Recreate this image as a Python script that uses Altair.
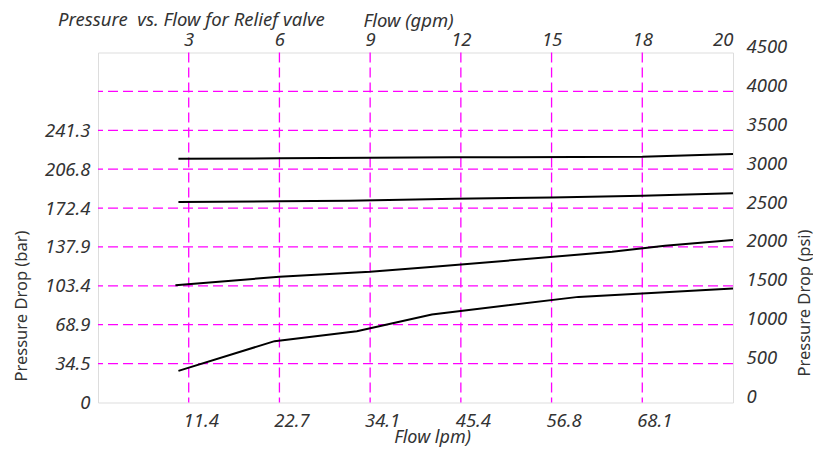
import altair as alt
import pandas as pd

# ---- axis ticks / labels ----
gpm_ticks = [3, 6, 9, 12, 15, 18, 21]
gpm_labels = ["3", "6", "9", "12", "15", "18", "20"]
grid_gpm = [3, 6, 9, 12, 15, 18]
lpm_labels = ["11.4", "22.7", "34.1", "45.4", "56.8", "68.1"]
psi_ticks = [0, 500, 1000, 1500, 2000, 2500, 3000, 3500, 4000, 4500]
grid_psi = [500, 1000, 1500, 2000, 2500, 3000, 3500, 4000]
bar_ticks = [0, 500, 1000, 1500, 2000, 2500, 3000, 3500]
bar_labels = ["0", "34.5", "68.9", "103.4", "137.9", "172.4", "206.8", "241.3"]

# ---- series (flow in gpm, pressure in psi) ----
s1_gpm = [2.66, 6.0, 9.0, 11.8, 18.0, 21.0]
s1_psi = [3134, 3139, 3147, 3152, 3160, 3194]
s2_gpm = [2.66, 6.0, 8.3, 11.8, 15.0, 18.0, 21.0]
s2_psi = [2577, 2588, 2594, 2619, 2637, 2658, 2689]
s3_gpm = [2.56, 6.0, 9.0, 11.0, 17.0, 18.75, 21.0]
s3_psi = [1509, 1616, 1680, 1741, 1937, 2015, 2088]
s4_gpm = [2.66, 5.84, 8.56, 11.04, 15.89, 21.0]
s4_psi = [407, 789, 917, 1132, 1358, 1467]

rows = []
for name, xs, ys in [("s1", s1_gpm, s1_psi), ("s2", s2_gpm, s2_psi),
                     ("s3", s3_gpm, s3_psi), ("s4", s4_gpm, s4_psi)]:
    for i, (a, b) in enumerate(zip(xs, ys)):
        rows.append({"series": name, "gpm": a, "psi": b, "order": i})
df = pd.DataFrame(rows)

FONT = "Noto Sans"
TXT = "#333333"
MAG = "#FF00FF"

xscale = alt.Scale(domain=[0, 21], nice=False, zero=True)
yscale = alt.Scale(domain=[0, 4500], nice=False, zero=True)


def arr_expr(labels, idx):
    return "[" + ",".join("'%s'" % l for l in labels) + "][" + idx + "]"


common_axis = dict(domain=False, ticks=False, grid=False, labelFont=FONT,
                   labelFontSize=18.5, labelFontStyle="italic", labelColor=TXT,
                   titleFont=FONT, titleColor=TXT, titleFontWeight="normal")

vgrid = alt.Chart(pd.DataFrame({"g": grid_gpm})).mark_rule(
    color=MAG, strokeWidth=1.3, strokeDash=[10, 5]
).encode(x=alt.X("g:Q", scale=xscale, axis=None))

hgrid = alt.Chart(pd.DataFrame({"p": grid_psi})).mark_rule(
    color=MAG, strokeWidth=1.3, strokeDash=[10, 5]
).encode(y=alt.Y("p:Q", scale=yscale, axis=None))

lines = alt.Chart(df).mark_line(color="black", strokeWidth=2).encode(
    x=alt.X("gpm:Q", scale=xscale, axis=alt.Axis(
        orient="bottom", values=grid_gpm,
        labelExpr=arr_expr(lpm_labels, "round(datum.value/3)-1"),
        labelPadding=9, labelOffset=12,
        title="Flow lpm)", titleFontSize=18, titleFontStyle="italic",
        titleX=334, titleY=34.5, titleAlign="center", titleBaseline="middle",
        **common_axis)),
    y=alt.Y("psi:Q", scale=yscale, axis=alt.Axis(
        orient="left", values=bar_ticks,
        labelExpr=arr_expr(bar_labels, "round(datum.value/500)"),
        labelPadding=8,
        title="Pressure Drop (bar)", titleFontSize=16.5, titleAngle=270,
        titleX=-77, titleY=253, titleAlign="center", titleBaseline="middle",
        **common_axis)),
    detail="series:N",
    order="order:Q",
)

ghost = alt.Chart(df).mark_point(opacity=0).encode(
    x=alt.X("gpm:Q", scale=xscale, axis=alt.Axis(
        orient="top", values=gpm_ticks,
        labelExpr=arr_expr(gpm_labels, "round(datum.value/3)-1"),
        labelPadding=3,
        title="Flow (gpm)", titleFontSize=18.5, titleFontStyle="italic",
        titleX=310, titleY=-32, titleAlign="center", titleBaseline="middle",
        **common_axis)),
    y=alt.Y("psi:Q", scale=yscale, axis=alt.Axis(
        orient="right", values=psi_ticks, format="d",
        labelPadding=13, labelOffset=-6,
        title="Pressure Drop (psi)", titleFontSize=16.5, titleAngle=270,
        titleX=71, titleY=250, titleAlign="center", titleBaseline="middle",
        **common_axis)),
)

chart = alt.layer(vgrid, hgrid, lines, ghost).resolve_axis(
    x="independent", y="independent"
).properties(
    width=635, height=350,
    title=alt.TitleParams(
        "Pressure\u00a0 vs. Flow for Relief valve", anchor="start", frame="group",
        font=FONT, fontSize=18.5, fontStyle="italic", fontWeight="normal",
        color=TXT, dx=-40, dy=22),
    autosize=alt.AutoSizeParams(type="none"),
    padding={"left": 90, "top": 44.5, "right": 80, "bottom": 45.5},
).configure_view(stroke="#222222", strokeWidth=1.5).configure(background="white")

chart.save("out.html", embed_options={"renderer": "svg", "actions": False})
